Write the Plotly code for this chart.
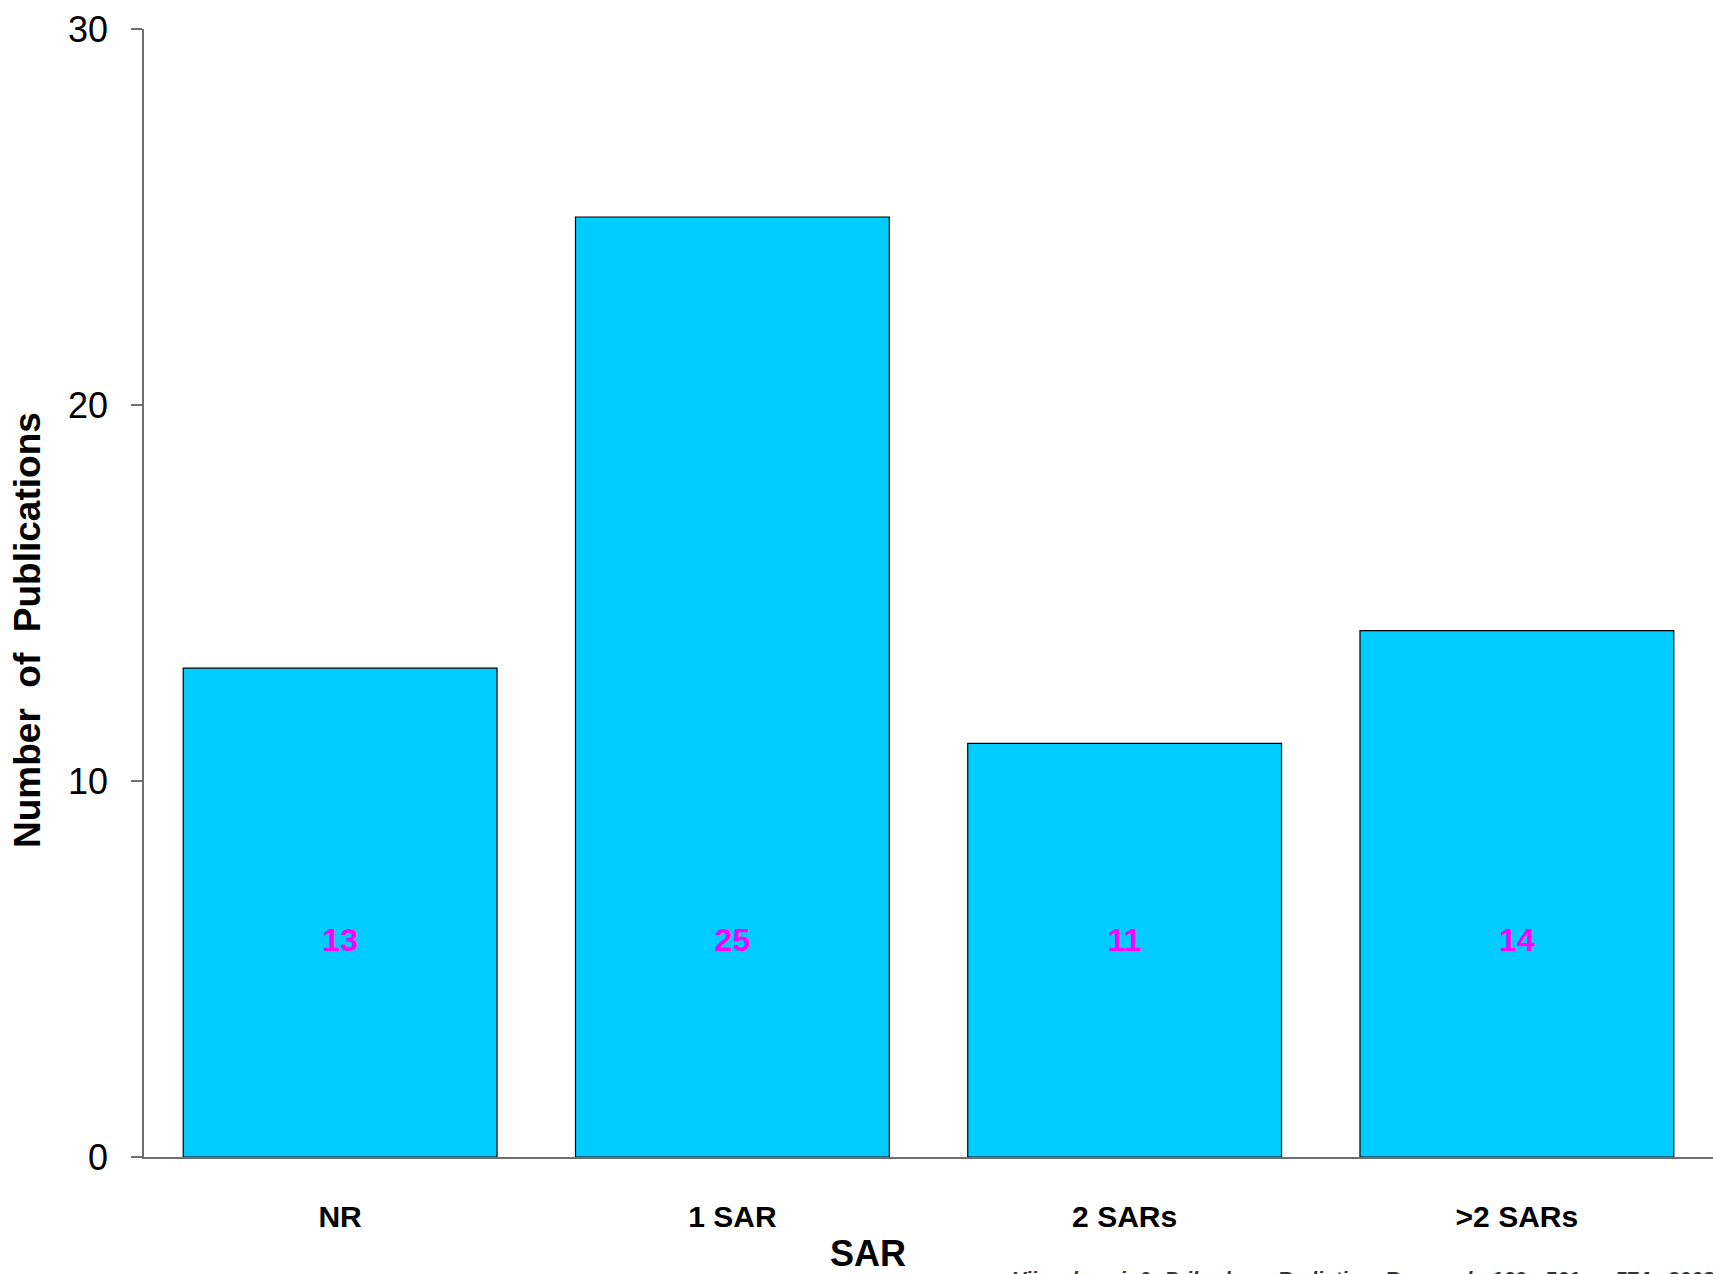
import plotly.graph_objects as go

categories = ["NR", "1 SAR", "2 SARs", ">2 SARs"]
publications = [13, 25, 11, 14]
y_ticks = [0, 10, 20, 30]
label_height = [5.7, 5.7, 5.7, 5.7]

FONT = "Liberation Sans, Arial, sans-serif"
W, H = 1713, 1274
L, R, T, B = 144, 0, 29, 117
pw, ph = W - L - R, H - T - B

fig = go.Figure()
fig.add_trace(go.Bar(
    x=categories, y=publications,
    marker=dict(color="#00CCFF", line=dict(color="#000000", width=1.2)),
    hoverinfo="skip",
))
fig.add_trace(go.Scatter(
    x=categories, y=label_height, mode="text",
    text=[str(v) for v in publications],
    textfont=dict(family=FONT, size=32, color="#FF00FF", weight="bold"),
    hoverinfo="skip",
))

fig.update_layout(
    width=W, height=H,
    margin=dict(l=L, r=R, t=T, b=B, pad=0),
    paper_bgcolor="white", plot_bgcolor="white",
    showlegend=False, bargap=0.2,
    font=dict(family=FONT, color="black"),
    xaxis=dict(
        type="category", range=[-0.5, 3.5],
        showline=True, linecolor="#6e6e6e", linewidth=1.5,
        ticks="", showgrid=False, zeroline=False,
        tickfont=dict(family=FONT, size=30, color="black", weight="bold"),
        ticklabelstandoff=32,
    ),
    yaxis=dict(
        range=[0, 30], tickvals=y_ticks,
        showline=True, linecolor="#6e6e6e", linewidth=1.5,
        ticks="outside", ticklen=11, tickcolor="#6e6e6e", tickwidth=1.5,
        showgrid=False, zeroline=False,
        tickfont=dict(family=FONT, size=36, color="black"),
        ticklabelstandoff=16,
    ),
    annotations=[
        dict(text="Number\u00a0\u00a0of\u00a0\u00a0Publications", textangle=-90,
             xref="paper", yref="paper",
             x=(27 - L) / pw, y=(H - B - 630) / ph,
             xanchor="center", yanchor="middle", showarrow=False,
             font=dict(family=FONT, size=37, color="black", weight="bold")),
        dict(text="SAR", xref="paper", yref="paper",
             x=(868 - L) / pw, y=(H - B - 1253) / ph,
             xanchor="center", yanchor="middle", showarrow=False,
             font=dict(family=FONT, size=36, color="black", weight="bold")),
        dict(text="Vijayalaxmi\u00a0\u00a0&\u00a0\u00a0Prihoda\u00a0\u00a0–\u00a0\u00a0Radiation\u00a0\u00a0Research\u00a0\u00a0169:\u00a0\u00a0561\u00a0\u00a0–\u00a0\u00a0574,\u00a0\u00a02008",
             xref="paper", yref="paper",
             x=(1010 - L) / pw, y=(H - B - 1278) / ph,
             xanchor="left", yanchor="middle", showarrow=False,
             font=dict(family=FONT, size=21, color="#333333", weight="bold", style="italic")),
    ],
)

fig.write_html("out.html")
